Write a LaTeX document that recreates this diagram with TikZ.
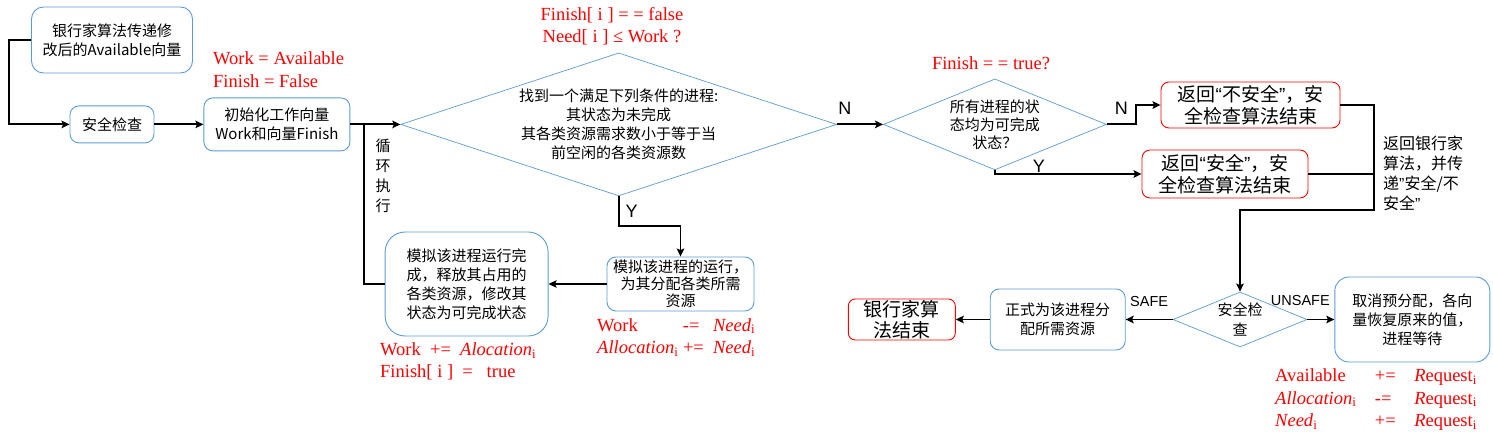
\documentclass[tikz,border=0pt]{standalone}
\usepackage{fontspec}
\setmainfont{Liberation Serif}
\newfontfamily\cjk{Noto Sans CJK SC}
\newfontfamily\sansfnt{Liberation Sans}
\usepackage{tikz}
\usetikzlibrary{shapes.geometric, positioning, arrows.meta}
\definecolor{boxblue}{RGB}{91,155,213}
\newcommand{\oq}{{\sansfnt“}}
\newcommand{\cq}{{\sansfnt”}}
\tikzset{
>={Stealth[length=8pt, width=7.5pt, inset=1.5pt]}, % makes the arrow heads bold
box/.style={draw=boxblue, line width=0.9pt, rounded corners=9pt, align=center, inner sep=2pt, font=\cjk\fontsize{15}{19}\selectfont}, % process boxes
endbox/.style={box, draw=red, rounded corners=8pt, font=\cjk\fontsize{19}{22}\selectfont}, % result boxes
decision/.style={diamond, draw=boxblue, line width=0.7pt, align=center, inner sep=0pt, font=\cjk\fontsize{15}{19}\selectfont}, % tests
line/.style={line width=1.9pt}, % connectors
flow/.style={line, ->}, % directed connectors
note/.style={text=red, inner sep=0pt, font=\fontsize{18.5}{22.5}\selectfont}, % red formulas
lbl/.style={inner sep=0pt, font=\sansfnt\fontsize{18}{18}\selectfont}, % branch labels
smalllbl/.style={lbl, font=\sansfnt\fontsize{14.5}{14.5}\selectfont}, % result labels
}

\begin{document}
\begin{tikzpicture}[x=1pt, y=-1pt]
        \useasboundingbox (0,0) rectangle (1493,441);

        % Initialisation
        \node[box, minimum width=161pt, minimum height=66pt, rounded corners=12pt] (avail) at (112,40) {银行家算法传递修\\改后的Available向量};
        \node[box, below=32pt of avail, minimum width=84pt, minimum height=37pt] (check) {安全检查};
        \node[box, right=49pt of check, minimum width=146pt, minimum height=53pt] (init) {初始化工作向量\\Work和向量Finish};
        \node[note, align=left, anchor=west] (initnote) at (213,69.5) {Work = Available\\Finish = False};

        \draw[flow] (avail.west) -- ++(-22,0) |- (check);
        \draw[flow] (check) -- (init);

        % Search loop
        \node[decision, right=50pt of init, minimum width=436pt, minimum height=143pt, aspect=3.05] (find) {找到一个满足下列条件的进程:\\其状态为未完成\\其各类资源需求数小于等于当\\前空闲的各类资源数};
        \node[note, align=center] (findnote) at (612,26) {Finish[ i ] = = false\\Need[ i ] ≤ Work ?};
        \node[box, minimum width=147pt, minimum height=54pt, font=\cjk\fontsize{15}{17}\selectfont] (alloc) at (680.5,284) {模拟该进程的运行，\\为其分配各类所需\\资源};
        \node[box, left=58pt of alloc, minimum width=163pt, minimum height=104pt, rounded corners=20pt] (sim) {模拟该进程运行完\\成，释放其占用的\\各类资源，修改其\\状态为可完成状态};
        \node[note, anchor=west] (allocnote) at (597,338) {\begin{tabular}{@{}l@{\ }l@{\ \ }l@{}}
            Work & -= & \textit{Need}\textsubscript{i}\\
            \textit{Allocation}\textsubscript{i} & += & \textit{Need}\textsubscript{i}
        \end{tabular}};
        \node[note, align=left, anchor=west] (simnote) at (380,361.5) {Work \ += \ \textit{Alocation}\textsubscript{i}\\Finish[ i ] \ = \ \ true};
        \node[inner sep=0pt, align=center, font=\cjk\fontsize{15}{20}\selectfont] (looptxt) at (383,176) {循\\环\\执\\行};
        \coordinate (loopjoin) at (364,123);

        \draw[flow] (init) -- (find);
        \draw[flow] (find.south) -- node[lbl, right=6pt] (y1) {Y} ++(0,30) -| (alloc.north);
        \draw[flow] (alloc) -- (sim);
        \draw[line] (sim.west) -| (loopjoin);

        % Final test
        \node[decision, right=46pt of find, minimum width=223pt, minimum height=91pt, aspect=2.45, font=\cjk\fontsize{15}{18}\selectfont] (all) {所有进程的状\\态均为可完成\\状态？};
        \node[note] (allnote) at (991,63) {Finish = = true?};
        \node[endbox, minimum width=179pt, minimum height=46pt] (unsafe) at (1250.5,105) {返回\oq 不安全\cq，安\\全检查算法结束};
        \node[endbox, minimum width=166pt, minimum height=48pt] (safe) at (1225,174) {返回\oq 安全\cq，安\\全检查算法结束};
        \coordinate (ret) at (1374,210);
        \node[anchor=west, align=left, inner sep=0pt, font=\cjk\fontsize{16}{20}\selectfont] (rettxt) at (1383,173) {返回银行家\\算法，并传\\递\cq 安全/不\\安全\cq};

        \draw[flow] (find) -- node[lbl, pos=0.17, above=9pt] (n1) {N} (all);
        \draw[flow] (all.east) -- node[lbl, above=9pt] (n2) {N} ++(29,0) |- (unsafe.west);
        \draw[flow] (all.south) |- node[lbl, pos=0.65, above=1pt] (y2) {Y} (safe.west);

        % Request outcome
        \node[decision, minimum width=134pt, minimum height=55pt, aspect=2.44, font=\cjk\fontsize{15}{20}\selectfont] (check2) at (1240,319.5) {安全检\\查};
        \node[box, left=47pt of check2, minimum width=135pt, minimum height=61pt] (grant) {正式为该进程分\\配所需资源};
        \node[endbox, left=34pt of grant, minimum width=107pt, minimum height=41pt, inner sep=0pt, rounded corners=7pt, font=\cjk\fontsize{19}{21}\selectfont] (done) {银行家算\\法结束};
        \node[box, right=27pt of check2, minimum width=155pt, minimum height=85pt, rounded corners=14pt] (undo) {取消预分配，各向\\量恢复原来的值，\\进程等待};
        \node[note, anchor=west] (undonote) at (1275,399.5) {\begin{tabular}{@{}l@{\quad}l@{\quad}l@{}}
            Available & += & \textit{R}equest\textsubscript{i}\\
            \textit{Allocation}\textsubscript{i} & -= & \textit{R}equest\textsubscript{i}\\
            \textit{Need}\textsubscript{i} & += & \textit{R}equest\textsubscript{i}
        \end{tabular}};

        \draw[flow] (unsafe.east) -| (ret) -| (check2.north);
        \draw[line] (safe.east) -- (safe.east -| ret);
        \draw[flow] (check2) -- node[smalllbl, above=12pt] (safelbl) {SAFE} (grant);
        \draw[flow] (grant) -- (done);
        \draw[flow] (check2) -- node[smalllbl, pos=0, above=13pt, xshift=-7pt] (unsafelbl) {UNSAFE} (undo);
    \end{tikzpicture}
\end{document}
